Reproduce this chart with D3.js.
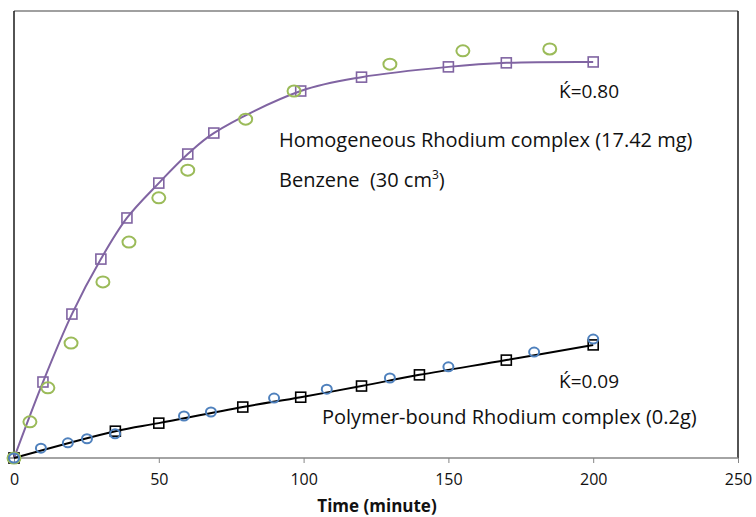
<!DOCTYPE html>
<html lang="en">
<head>
    <meta charset="UTF-8">
    <title>Rhodium complex kinetics</title>
    <script src="https://d3js.org/d3.v7.min.js"></script>
    <style>
        body { margin: 0; background: #fff; }
        svg { font-family: "Open Sans", "Liberation Sans", Arial, sans-serif; }
    </style>
</head>
<body>
    <div id="chart"></div>
    <script>
        // Homogeneous Rhodium complex - fitted curve (squares)
        var homFitT = [0, 10, 20, 30, 39, 50, 60, 69, 99, 120, 150, 170, 200];
        var homFitY = [0, 17.0, 32.2, 44.5, 53.7, 61.5, 68.0, 72.7, 82.1, 85.2, 87.5, 88.4, 88.6];

        // Homogeneous Rhodium complex - measured (green circles)
        var homDataT = [0, 5.5, 11.7, 19.7, 30.7, 39.7, 50, 60, 80, 96.7, 129.8, 155, 185];
        var homDataY = [0, 8.1, 15.7, 25.7, 39.4, 48.3, 58.2, 64.4, 75.8, 82.1, 88.1, 91.1, 91.5];

        // Polymer-bound Rhodium complex - fitted (black squares)
        var polFitT = [0, 35, 50, 79, 99, 120, 140, 170, 200];
        var polFitY = [0, 6.0, 7.8, 11.4, 13.6, 16.1, 18.6, 21.9, 25.3];

        // Polymer-bound Rhodium complex - measured (blue circles)
        var polDataT = [0, 9.3, 18.6, 25.2, 34.9, 58.7, 68, 89.8, 108, 129.8, 150, 179.6, 200];
        var polDataY = [0, 2.2, 3.4, 4.3, 5.4, 9.4, 10.3, 13.4, 15.4, 17.9, 20.4, 23.7, 26.6];

        var xTicks = [0, 50, 100, 150, 200, 250];

        var width = 756, height = 517;
        var plotLeft = 14, plotRight = 738, plotTop = 11, plotBottom = 458;

        var svg = d3.select("#chart").append("svg")
            .attr("width", width)
            .attr("height", height);

        var x = d3.scaleLinear().domain([0, 250]).range([plotLeft, plotRight]);
        var y = d3.scaleLinear().domain([0, 100]).range([plotBottom, plotTop]);

        var zip = (ts, ys) => ts.map((t, i) => ({t: t, v: ys[i]}));

        // frame
        svg.append("line").attr("x1", plotLeft).attr("x2", plotRight).attr("y1", plotTop).attr("y2", plotTop)
            .attr("stroke", "#808080").attr("stroke-width", 1.5);
        svg.append("line").attr("x1", plotLeft).attr("x2", plotLeft).attr("y1", plotTop).attr("y2", plotBottom)
            .attr("stroke", "#1a1a1a").attr("stroke-width", 1.5);
        svg.append("line").attr("x1", plotRight).attr("x2", plotRight).attr("y1", plotTop).attr("y2", plotBottom)
            .attr("stroke", "#1a1a1a").attr("stroke-width", 1.5);

        // x axis
        var xAxis = svg.append("g")
            .attr("transform", `translate(0,${plotBottom})`)
            .call(d3.axisBottom(x).tickValues(xTicks).tickSize(5).tickPadding(11).tickSizeOuter(0));
        xAxis.select(".domain").attr("stroke", "#868686").attr("stroke-width", 1.3)
            .attr("d", `M${plotLeft - 6},0H${plotRight}`);
        xAxis.selectAll(".tick line").attr("stroke", "#868686");
        xAxis.selectAll(".tick text").attr("font-size", 16).attr("fill", "#111")
            .attr("font-family", "Open Sans, sans-serif");

        svg.append("text")
            .attr("x", 377)
            .attr("y", 512)
            .attr("text-anchor", "middle")
            .attr("font-weight", "bold")
            .attr("font-size", 17)
            .attr("fill", "#111")
            .text("Time (minute)");

        var line = d3.line()
            .x(d => x(d.t))
            .y(d => y(d.v))
            .curve(d3.curveCatmullRom.alpha(0.5));

        // purple fit curve
        svg.append("path")
            .datum(zip(homFitT, homFitY))
            .attr("fill", "none")
            .attr("stroke", "#8064A2")
            .attr("stroke-width", 2)
            .attr("d", line);

        // black fit curve
        svg.append("path")
            .datum(zip(polFitT, polFitY))
            .attr("fill", "none")
            .attr("stroke", "#000")
            .attr("stroke-width", 2)
            .attr("d", line);

        // squares
        function squares(data, color) {
            svg.append("g").selectAll("rect")
                .data(data)
                .join("rect")
                .attr("x", d => x(d.t) - 5)
                .attr("y", d => y(d.v) - 5)
                .attr("width", 10)
                .attr("height", 10)
                .attr("fill", "none")
                .attr("stroke", color)
                .attr("stroke-width", 1.6);
        }
        squares(zip(homFitT, homFitY), "#8064A2");
        squares(zip(polFitT, polFitY), "#000");

        // circles
        function circles(data, color, rx, ry) {
            svg.append("g").selectAll("ellipse")
                .data(data)
                .join("ellipse")
                .attr("cx", d => x(d.t))
                .attr("cy", d => y(d.v))
                .attr("rx", rx)
                .attr("ry", ry)
                .attr("fill", "none")
                .attr("stroke", color)
                .attr("stroke-width", 2);
        }
        circles(zip(homDataT, homDataY), "#9BBB59", 6.5, 5.5);
        circles(zip(polDataT, polDataY), "#4F81BD", 5, 4.5);

        // annotations
        var notes = svg.append("g").attr("font-size", 20).attr("fill", "#111");
        notes.append("text").attr("x", 559).attr("y", 98).attr("font-size", 19).text("K\u0301=0.80");
        notes.append("text").attr("x", 279).attr("y", 147).text("Homogeneous Rhodium complex (17.42 mg)");
        var benz = notes.append("text").attr("x", 279).attr("y", 187);
        benz.append("tspan").text("Benzene \u00a0(30 cm");
        benz.append("tspan").attr("font-size", 12).attr("dy", -8).text("3");
        benz.append("tspan").attr("dy", 8).text(")");
        notes.append("text").attr("x", 559).attr("y", 388).attr("font-size", 19).text("K\u0301=0.09");
        notes.append("text").attr("x", 322).attr("y", 424).text("Polymer-bound Rhodium complex (0.2g)");
    </script>
</body>
</html>
